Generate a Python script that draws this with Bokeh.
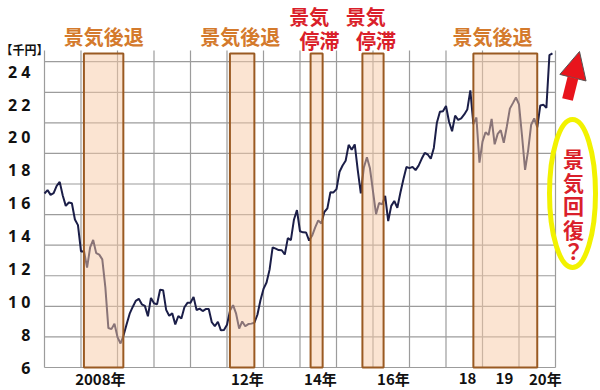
from bokeh.plotting import figure
from bokeh.embed import file_html
from bokeh.resources import INLINE
from bokeh.models import Arrow, NormalHead, ColumnDataSource
from bokeh.core.properties import value

# ---------------- data (Nikkei average, thousand yen, month-end) ----------------
start_year = 2007
nikkei_2007 = [17.38, 17.60, 17.29, 17.40, 17.88, 18.14, 17.25, 16.57, 16.79, 16.74, 15.68, 15.31]
nikkei_2008 = [13.59, 13.60, 12.53, 13.85, 14.34, 13.48, 13.38, 13.07, 11.26, 8.58, 8.51, 8.86]
nikkei_2009 = [7.99, 7.57, 8.11, 8.83, 9.52, 9.96, 10.36, 10.49, 10.13, 10.03, 9.35, 10.55]
nikkei_2010 = [10.20, 10.13, 11.09, 11.06, 9.77, 9.38, 9.54, 8.82, 9.37, 9.20, 9.94, 10.23]
nikkei_2011 = [10.24, 10.62, 9.76, 9.85, 9.69, 9.82, 9.83, 8.96, 8.70, 8.99, 8.43, 8.46]
nikkei_2012 = [8.80, 9.72, 10.08, 9.52, 8.54, 9.01, 8.70, 8.84, 8.87, 8.93, 9.45, 10.40]
nikkei_2013 = [11.14, 11.56, 12.40, 13.86, 13.77, 13.68, 13.67, 13.39, 14.46, 14.33, 15.66, 16.29]
nikkei_2014 = [14.91, 14.84, 14.83, 14.30, 14.63, 15.16, 15.62, 15.42, 16.17, 16.41, 17.46, 17.45]
nikkei_2015 = [17.67, 18.80, 19.21, 19.52, 20.56, 20.24, 20.59, 18.89, 17.39, 19.08, 19.75, 19.03]
nikkei_2016 = [17.52, 16.03, 16.76, 16.67, 17.23, 15.58, 16.57, 16.89, 16.45, 17.43, 18.31, 19.11]
nikkei_2017 = [19.04, 19.12, 18.91, 19.20, 19.65, 20.03, 19.93, 19.65, 20.36, 22.01, 22.72, 22.76]
nikkei_2018 = [23.10, 22.07, 21.45, 22.47, 22.20, 22.30, 22.55, 22.87, 24.12, 21.92, 22.35, 19.40]
nikkei_2019 = [20.77, 21.39, 21.21, 22.26, 20.60, 21.28, 21.52, 20.70, 21.76, 22.93, 23.29, 23.66]
nikkei_2020 = [23.21, 21.14, 18.92, 20.19, 21.88, 22.29, 21.71, 23.14, 23.19, 22.98, 26.43, 26.55]

# business-cycle periods (fractional years)
period_start = [2008.08, 2012.08, 2014.29, 2015.71, 2018.75]
period_end = [2009.16, 2012.75, 2014.62, 2016.29, 2020.50]
period_kind = ["後退", "後退", "停滞", "停滞", "後退"]

# axis texts
grid_years = list(range(2007, 2022))
grid_values = list(range(6, 27, 2))
y_label_values = [6, 8, 10, 12, 14, 16, 18, 20, 22, 24]
y_label_texts = ["6", "8", "1 0", "1 2", "1 4", "1 6", "1 8", "2 0", "2 2", "2 4"]
x_label_texts = ["2008年", "12年", "14年", "16年", "18", "19", "20年"]
x_label_years = [2008.53, 2012.56, 2014.56, 2016.56, 2018.59, 2019.60, 2020.72]

# ---------------- layout helpers (pixel -> data) ----------------
PX_PER_YEAR = 36.5
PX_PER_UNIT = 15.29
X0 = 2007 - 44 / PX_PER_YEAR          # left edge of canvas
Y0 = 6 - 23 / PX_PER_UNIT             # bottom edge of canvas
def dx(px):
    return X0 + px / PX_PER_YEAR
def dy(py):
    return Y0 + (390 - py) / PX_PER_UNIT

series = (nikkei_2007 + nikkei_2008 + nikkei_2009 + nikkei_2010 + nikkei_2011 +
          nikkei_2012 + nikkei_2013 + nikkei_2014 + nikkei_2015 + nikkei_2016 +
          nikkei_2017 + nikkei_2018 + nikkei_2019 + nikkei_2020)
months_x = [start_year + i / 12 for i in range(len(series))]

FONT = "Noto Sans CJK JP"
ORANGE = "#D47A2C"
RED = "#DA1F2B"
LINE = "#1B1E48"
GRID = "#9C9C9C"

p = figure(width=600, height=390, x_range=(X0, X0 + 600 / PX_PER_YEAR),
           y_range=(Y0, Y0 + 390 / PX_PER_UNIT),
           output_backend="svg", toolbar_location=None, min_border=0,
           background_fill_color="white", border_fill_color="white")
p.outline_line_color = None
p.axis.visible = False
p.grid.visible = False

# grid lines (limited to the chart area)
grid_top = dy(50)
gv = ColumnDataSource(dict(x=grid_years, y0=[6] * len(grid_years), y1=[grid_top] * len(grid_years)))
p.segment(x0="x", x1="x", y0="y0", y1="y1", source=gv, line_color=GRID, line_width=1.2)
gh = ColumnDataSource(dict(y=grid_values, x0=[2007] * len(grid_values), x1=[2021] * len(grid_values)))
p.segment(x0="x0", x1="x1", y0="y", y1="y", source=gh, line_color=GRID, line_width=1.2)

# y tick labels (placed as in the original, slightly stretched)
y_pos = [6 + (v - 6) * 1.075 for v in y_label_values]
p.text(x=[dx(30)] * len(y_pos), y=y_pos, text=y_label_texts, text_color="#111111",
       text_font=value("Noto Sans"), text_font_style="bold", text_font_size="16px",
       text_align="right", text_baseline="middle")
# x tick labels
p.text(x=x_label_years, y=[dy(378)] * len(x_label_years), text=x_label_texts, text_color="#111111",
       text_font=value(FONT), text_font_style="bold", text_font_size="15px",
       text_align="center", text_baseline="middle")
# unit
p.text(x=[dx(0)], y=[dy(48.5)], text=["【千円】"], text_color="#111111",
       text_font=value(FONT), text_font_style="bold", text_font_size="12px",
       text_align="left", text_baseline="middle")

# line
p.line(months_x, series, line_color=LINE, line_width=2)

# boxes on top (semi-transparent)
box_top = dy(53)
p.quad(left=period_start, right=period_end, top=[box_top] * len(period_start),
       bottom=[6] * len(period_start),
       fill_color="#F8C9A6", fill_alpha=0.5, line_color="#9A5A22", line_width=2)

# labels above boxes
label_shift = [0, -0.05, 0, 0, -0.35]
lab_x, lab_y, lab_t, lab_c = [], [], [], []
for s, e, k, sh in zip(period_start, period_end, period_kind, label_shift):
    c = (s + e) / 2 + sh
    if k == "後退":
        lab_x.append(c); lab_y.append(dy(36)); lab_t.append("景気後退"); lab_c.append(ORANGE)
    else:
        lab_x.append(c - 0.2); lab_y.append(dy(16)); lab_t.append("景気"); lab_c.append(RED)
        lab_x.append(c + 0.08); lab_y.append(dy(40)); lab_t.append("停滞"); lab_c.append(RED)
src = ColumnDataSource(dict(x=lab_x, y=lab_y, t=lab_t, c=lab_c))
p.text(x="x", y="y", text="t", text_color="c", source=src, text_font=value(FONT),
       text_font_style="bold", text_font_size="20px", text_align="center",
       text_baseline="middle")

# right annotations
p.ellipse(x=[dx(572)], y=[dy(193)], width=[46 / PX_PER_YEAR], height=[148 / PX_PER_UNIT],
          fill_color=None, line_color="#F2F200", line_width=5)
chars = ["景", "気", "回", "復", "？"]
char_py = [157, 181, 204, 228, 249]
p.text(x=[dx(573)] * len(chars), y=[dy(v) for v in char_py], text=chars, text_color=RED,
       text_font=value(FONT), text_font_style="bold", text_font_size="21px",
       text_align="center", text_baseline="middle")
p.add_layout(Arrow(end=NormalHead(size=27, fill_color="#E8141C", line_color="#555555",
                                  line_width=1),
                   x_start=dx(567), y_start=dy(99), x_end=dx(579), y_end=dy(51),
                   line_color="#E8141C", line_width=11))

open("out.html", "w").write(file_html(p, INLINE))
